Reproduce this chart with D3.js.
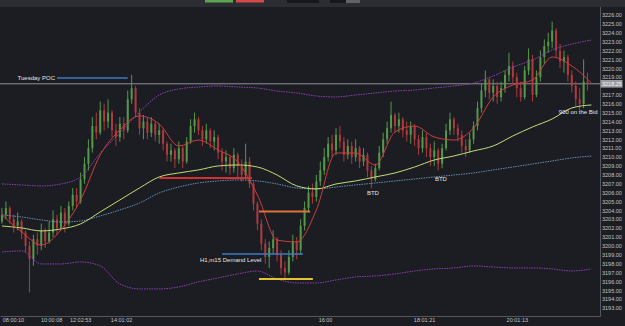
<!DOCTYPE html>
<html>
<head>
    <meta charset="utf-8">
    <style>
        body { margin: 0; background: #1b1d23; }
        svg { display: block; font-family: "Liberation Sans", Arial, sans-serif; }
    </style>
</head>
<body>
    <svg width="625" height="326"></svg>
    <script src="https://d3js.org/d3.v7.min.js"></script>
    <script>
        // bars (open = previous close)
        let firstOpen = 3202.75;
        let closes = [
            3203.5, 3204.25, 3203.0, 3202.25, 3202.75, 3201.5, 3200.0, 3198.5, 3200.75, 3200.0,
            3201.75, 3200.5, 3201.5, 3203.0, 3202.0, 3203.75, 3202.5, 3204.5, 3205.75, 3205.0,
            3207.5, 3209.25, 3211.0, 3213.5, 3212.75, 3215.25, 3214.0, 3215.0, 3213.0, 3212.25,
            3213.75, 3213.0, 3216.5, 3217.75, 3215.0, 3213.25, 3214.0, 3212.75, 3213.75, 3212.5,
            3213.0, 3211.5, 3210.25, 3210.75, 3209.75, 3211.0, 3209.5, 3211.75, 3213.5, 3214.25,
            3213.0, 3212.0, 3213.0, 3211.75, 3212.25, 3210.5, 3209.5, 3210.0, 3208.75, 3210.25,
            3209.0, 3208.0, 3209.5, 3207.0, 3204.75, 3202.5, 3200.25, 3198.75, 3199.75, 3200.75,
            3199.0, 3197.5, 3197.0, 3198.75, 3200.5, 3199.5, 3202.25, 3204.25, 3206.0, 3205.5,
            3207.25, 3208.5, 3210.0, 3211.5, 3210.75, 3212.5, 3211.75, 3210.25, 3211.25, 3210.0,
            3211.0, 3209.5, 3210.25, 3208.5, 3207.5, 3208.75, 3210.5, 3212.0, 3213.25, 3214.75,
            3213.5, 3214.25, 3213.0, 3212.5, 3213.5, 3212.0, 3211.0, 3212.25, 3211.0, 3210.0,
            3210.75, 3209.25, 3211.0, 3213.0, 3214.25, 3213.25, 3212.5, 3211.25, 3210.75, 3212.0,
            3213.5, 3215.5, 3217.5, 3218.75, 3217.25, 3218.0, 3216.75, 3217.75, 3219.25, 3220.25,
            3219.0, 3217.75, 3216.75, 3219.75, 3221.0, 3217.0, 3219.0, 3221.25, 3222.5, 3223.0,
            3224.25, 3222.0, 3220.75, 3221.25, 3219.25, 3218.0, 3216.5, 3216.0, 3218.5, 3218.25
        ];
        let highs = [
            3204.25, 3205.0, 3204.5, 3203.5, 3203.75, 3203.0, 3201.75, 3200.5, 3201.25, 3201.5,
            3202.5, 3202.0, 3202.75, 3204.0, 3203.5, 3204.5, 3204.25, 3205.0, 3206.5, 3206.5,
            3208.25, 3210.0, 3212.0, 3214.5, 3215.0, 3216.25, 3216.0, 3216.5, 3215.25, 3213.75,
            3214.5, 3214.5, 3217.5, 3219.25, 3218.0, 3215.5, 3214.75, 3214.5, 3214.5, 3214.0,
            3213.75, 3213.25, 3211.75, 3211.5, 3211.0, 3211.75, 3211.25, 3212.25, 3214.25, 3215.0,
            3214.5, 3213.5, 3213.75, 3213.25, 3213.0, 3212.5, 3211.0, 3210.75, 3210.25, 3211.0,
            3210.5, 3209.75, 3211.5, 3210.0, 3207.25, 3205.0, 3203.0, 3200.75, 3200.5, 3201.75,
            3201.0, 3199.5, 3198.25, 3199.5, 3201.25, 3201.0, 3203.0, 3205.0, 3206.75, 3207.0,
            3208.0, 3209.5, 3211.0, 3212.25, 3212.5, 3213.25, 3213.5, 3212.25, 3212.0, 3211.75,
            3212.0, 3211.25, 3211.0, 3210.5, 3209.0, 3209.25, 3211.25, 3212.75, 3214.0, 3216.25,
            3215.0, 3215.0, 3214.5, 3214.0, 3214.0, 3213.75, 3212.5, 3213.0, 3212.75, 3211.5,
            3211.75, 3211.0, 3211.5, 3213.75, 3215.0, 3214.5, 3213.75, 3213.0, 3212.0, 3212.75,
            3214.0, 3216.25, 3218.25, 3219.75, 3219.0, 3218.75, 3218.5, 3218.5, 3219.75, 3221.75,
            3220.75, 3219.5, 3218.5, 3220.25, 3222.25, 3221.5, 3219.75, 3222.0, 3223.25, 3224.0,
            3225.25, 3224.5, 3222.75, 3222.0, 3221.5, 3219.75, 3218.5, 3217.75, 3221.0, 3219.5
        ];
        let lows = [
            3202.5, 3203.0, 3202.5, 3201.5, 3201.75, 3200.75, 3199.25, 3194.75, 3197.75, 3199.0,
            3199.5, 3199.75, 3200.25, 3201.0, 3201.25, 3201.75, 3201.5, 3202.25, 3204.0, 3204.25,
            3204.75, 3207.0, 3208.5, 3210.5, 3212.0, 3212.5, 3213.0, 3213.25, 3212.25, 3211.25,
            3211.75, 3212.0, 3212.75, 3216.0, 3214.5, 3212.5, 3212.0, 3212.0, 3212.25, 3211.75,
            3211.5, 3210.75, 3209.5, 3209.5, 3208.75, 3209.25, 3208.75, 3209.25, 3211.5, 3212.75,
            3212.5, 3211.25, 3211.5, 3211.0, 3210.75, 3209.75, 3208.5, 3208.25, 3208.0, 3208.25,
            3207.75, 3207.25, 3207.5, 3206.5, 3204.0, 3201.75, 3199.5, 3198.0, 3197.5, 3199.0,
            3198.25, 3196.75, 3196.25, 3196.75, 3198.25, 3198.5, 3199.0, 3201.75, 3203.75, 3204.75,
            3205.0, 3206.75, 3208.0, 3209.5, 3210.0, 3210.25, 3211.0, 3209.5, 3209.75, 3209.25,
            3209.5, 3208.75, 3209.0, 3207.75, 3206.5, 3207.25, 3208.5, 3210.0, 3211.5, 3212.75,
            3212.75, 3212.75, 3212.25, 3211.75, 3211.5, 3211.25, 3210.25, 3210.5, 3210.0, 3209.0,
            3209.0, 3208.5, 3208.75, 3210.75, 3212.5, 3212.5, 3211.75, 3210.5, 3210.0, 3210.5,
            3211.5, 3213.0, 3215.0, 3216.75, 3216.5, 3216.25, 3216.0, 3216.25, 3217.25, 3218.5,
            3218.25, 3216.75, 3216.25, 3216.5, 3219.25, 3216.25, 3216.75, 3218.5, 3220.5, 3221.75,
            3222.25, 3221.25, 3220.0, 3219.5, 3218.5, 3217.25, 3215.75, 3215.25, 3215.5, 3217.5
        ];

        // indicator lines, one value every 5 bars (bar 0 .. 150)
        let fastMa = [3203.48, 3201.57, 3200.10, 3201.79, 3205.17, 3210.24, 3213.05, 3214.63, 3213.73, 3211.25,
            3211.92, 3210.80, 3209.45, 3205.73, 3200.66, 3200.44, 3204.04, 3210.46, 3210.46, 3209.11,
            3212.83, 3213.50, 3212.26, 3211.92, 3213.28, 3216.77, 3218.12, 3218.68, 3221.27, 3220.26, 3218.34];
        let slowMa = [3202.24, 3202.02, 3201.68, 3201.90, 3202.47, 3203.82, 3205.17, 3206.52, 3207.76, 3208.21,
            3208.55, 3209.00, 3209.11, 3208.88, 3207.98, 3206.75, 3206.41, 3206.97, 3207.31, 3207.76,
            3208.21, 3208.88, 3209.67, 3210.12, 3210.69, 3211.25, 3212.38, 3213.39, 3214.29, 3215.53, 3215.87];
        let longMa = [3203.48, 3203.25, 3202.92, 3202.69, 3202.80, 3203.37, 3204.04, 3204.83, 3205.96, 3206.63,
            3207.08, 3207.31, 3207.42, 3207.31, 3206.97, 3206.52, 3206.41, 3206.63, 3206.86, 3207.08,
            3207.31, 3207.53, 3207.76, 3207.98, 3208.21, 3208.55, 3208.88, 3209.22, 3209.56, 3209.90, 3210.12];
        let upperBand = [3206.97, 3206.86, 3206.75, 3206.97, 3207.76, 3210.46, 3212.71, 3215.08, 3216.99, 3217.67,
            3217.89, 3218.01, 3217.89, 3217.78, 3217.44, 3217.22, 3216.88, 3216.77, 3216.99, 3217.22,
            3217.44, 3217.55, 3217.78, 3218.01, 3218.34, 3219.13, 3220.14, 3220.93, 3222.06, 3222.73, 3223.18];
        let lowerBand = [3199.31, 3199.43, 3197.96, 3197.96, 3198.19, 3197.74, 3195.71, 3195.15, 3195.15, 3195.37,
            3195.94, 3196.39, 3196.84, 3197.17, 3196.27, 3195.82, 3195.82, 3196.16, 3196.50, 3196.61,
            3196.84, 3197.17, 3197.40, 3197.51, 3197.74, 3197.62, 3197.51, 3197.51, 3197.40, 3197.17, 3197.40];

        // time labels and the bar they sit under
        let timeLabels = ["08:00:10", "10:00:08", "12:02:53", "14:01:02", "16:00", "18:01:21", "20:01:13"];
        let timeTickBars = [2.8, 12.5, 19.9, 30.3, 82.2, 107.4, 131];

        // drawn levels
        let levelNames = ["poc", "supply", "orange", "demand", "yellow"];
        let levelPrices = [3218.9, 3207.65, 3203.87, 3199.09, 3196.27];
        let levelFrom = [14, 40, 65.4, 56, 65.4];
        let levelTo = [32, 63.6, 78.4, 76.6, 79.1];

        // notes
        let noteTexts = ["Tuesday POC", "H1,m15 Demand Level", "BTD", "BTD", "900 on the Bid"];
        let noteBars = [13.5, 50.4, 94.4, 111.7, 141.7];
        let notePrices = [3218.9, 3198.41, 3205.96, 3207.53, 3215.08];

        let levelColor = {poc: "#3b78c6", supply: "#d33030", orange: "#d9733a", demand: "#3b78c6", yellow: "#e6c333"};
        let levelWidth = {poc: 1.5, supply: 2, orange: 2, demand: 1.5, yellow: 2};
        let noteAnchor = ["end", "start", "middle", "middle", "start"];

        let svg = d3.select("svg");
        let x = d3.scaleLinear().domain([-0.5, 152.17]).range([0, 600]);
        let y = d3.scaleLinear().domain([3193, 3226]).range([308, 15]);

        svg.append("rect").attr("width", 625).attr("height", 326).attr("fill", "#1b1d23");

        // top bar
        svg.append("rect").attr("width", 625).attr("height", 7).attr("fill", "#2b2d32");
        svg.append("rect").attr("x", 205).attr("width", 28).attr("height", 2.5).attr("fill", "#5ea352");
        svg.append("rect").attr("x", 236).attr("width", 28).attr("height", 2.5).attr("fill", "#d24a4a");
        svg.append("rect").attr("x", 287).attr("width", 32).attr("height", 3).attr("fill", "#17181c");
        svg.append("rect").attr("x", 330).attr("width", 30).attr("height", 3).attr("fill", "#17181c");
        svg.append("rect").attr("x", 346).attr("width", 14).attr("height", 3).attr("fill", "#5f6267");

        svg.append("clipPath").attr("id", "plot")
            .append("rect").attr("x", 0).attr("y", 7).attr("width", 600).attr("height", 309);
        let plot = svg.append("g").attr("clip-path", "url(#plot)");

        // last price line
        let last = closes[closes.length - 1];
        plot.append("line")
            .attr("x1", 0).attr("x2", 600)
            .attr("y1", y(last)).attr("y2", y(last))
            .attr("stroke", "#8d9096").attr("stroke-width", 1);

        // candles
        let bars = closes.map((c, i) => ({i: i, o: i ? closes[i - 1] : firstOpen, h: highs[i], l: lows[i], c: c}));
        let candle = plot.selectAll("g.bar").data(bars).enter().append("g").attr("class", "bar");
        let barColor = d => d.c >= d.o ? "#55984a" : "#ad3a3c";
        candle.append("line")
            .attr("x1", d => x(d.i)).attr("x2", d => x(d.i))
            .attr("y1", d => y(d.h)).attr("y2", d => y(d.l))
            .attr("stroke", barColor).attr("stroke-width", 1);
        candle.append("rect")
            .attr("x", d => x(d.i) - 1).attr("width", 2)
            .attr("y", d => y(Math.max(d.o, d.c)))
            .attr("height", d => Math.max(1, Math.abs(y(d.o) - y(d.c))))
            .attr("fill", barColor);

        // indicator lines
        let maBars = d3.range(0, 151, 5);
        let line = d3.line().x((d, i) => x(maBars[i])).y(d => y(d)).curve(d3.curveMonotoneX);
        let series = [
            {v: upperBand, color: "#8c3fb0", dash: "1.5,1", w: 1},
            {v: lowerBand, color: "#8c3fb0", dash: "1.5,1", w: 1},
            {v: longMa, color: "#6690b4", dash: "1.5,1", w: 1},
            {v: slowMa, color: "#c3dd78", dash: null, w: 1},
            {v: fastMa, color: "#cf3c3c", dash: null, w: 1}
        ];
        series.forEach(s => {
            plot.append("path")
                .attr("d", line(s.v))
                .attr("fill", "none")
                .attr("stroke", s.color)
                .attr("stroke-width", s.w)
                .attr("stroke-dasharray", s.dash);
        });

        // levels
        plot.selectAll("line.level").data(levelNames).enter().append("line")
            .attr("class", "level")
            .attr("x1", (d, i) => x(levelFrom[i])).attr("x2", (d, i) => x(levelTo[i]))
            .attr("y1", (d, i) => y(levelPrices[i])).attr("y2", (d, i) => y(levelPrices[i]))
            .attr("stroke", d => levelColor[d]).attr("stroke-width", d => levelWidth[d]);

        // notes
        plot.selectAll("text.note").data(noteTexts).enter().append("text")
            .attr("class", "note")
            .attr("x", (d, i) => x(noteBars[i]))
            .attr("y", (d, i) => y(notePrices[i]))
            .attr("dy", "0.35em")
            .attr("text-anchor", (d, i) => noteAnchor[i])
            .attr("fill", "#e4e4e4")
            .attr("font-size", 6)
            .text(d => d);

        // axes; the tick under the last price tag is covered by the tag
        let priceTicks = d3.range(3193, 3227).filter(v => Math.abs(y(v) - y(last)) > 5);
        let yAxis = svg.append("g").attr("transform", "translate(600,0)")
            .call(d3.axisRight(y).tickValues(priceTicks).tickFormat(d3.format(".2f"))
                .tickSize(0).tickPadding(2));
        yAxis.select(".domain").attr("stroke", "#55575c").attr("d", "M0.5,7V316.5");
        yAxis.selectAll("text").attr("fill", "#c4c4c4").attr("font-size", 5.5).attr("font-family", "Liberation Sans, Arial");

        let xAxis = svg.append("g").attr("transform", "translate(0,316)")
            .call(d3.axisBottom(x).tickValues(timeTickBars).tickFormat((d, i) => timeLabels[i])
                .tickSize(0).tickSizeOuter(0).tickPadding(2));
        xAxis.select(".domain").attr("stroke", "#55575c");
        xAxis.selectAll("text").attr("fill", "#c4c4c4").attr("font-size", 5.5).attr("font-family", "Liberation Sans, Arial");

        // last price tag
        svg.append("rect").attr("x", 600.5).attr("y", y(last) - 3.8).attr("width", 22).attr("height", 7.6)
            .attr("fill", "#9b9ea4");
        svg.append("text").attr("x", 602).attr("y", y(last)).attr("dy", "0.35em")
            .attr("fill", "#f2f2f2").attr("font-size", 5.5)
            .text(d3.format(".2f")(last));
    </script>
</body>
</html>
